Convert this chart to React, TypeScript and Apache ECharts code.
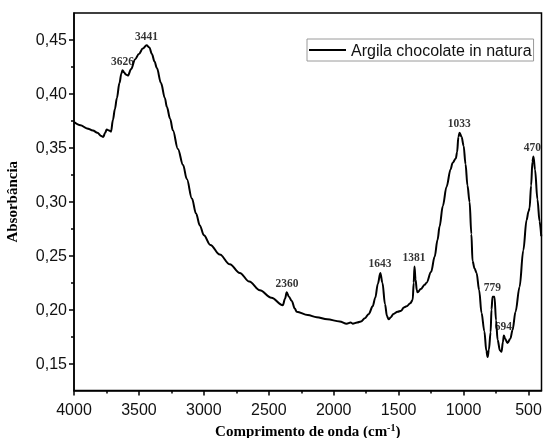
import React, { useEffect, useRef } from "react";
import * as echarts from "echarts";

const wavenumbers = [
  4000, 3950, 3900, 3854, 3820, 3790, 3775, 3760, 3748, 3730, 3715, 3700, 3685, 3670, 3650, 3635, 3626, 3615, 3600, 3585,
  3560, 3530, 3500, 3470, 3441, 3420, 3400, 3380, 3362, 3330, 3300, 3285, 3260, 3238, 3200, 3160, 3131, 3092, 3060, 3031,
  3000, 2950, 2877, 2800, 2723, 2650, 2569, 2480, 2392, 2375, 2362, 2345, 2323, 2300, 2285, 2200, 2131, 2050, 1954, 1900,
  1870, 1854, 1820, 1790, 1760, 1730, 1700, 1680, 1660, 1641, 1625, 1605, 1590, 1577, 1560, 1540, 1508, 1480, 1460, 1439,
  1410, 1392, 1384, 1378, 1370, 1360, 1354, 1330, 1300, 1285, 1250, 1223, 1200, 1185, 1160, 1131, 1100, 1085, 1060, 1050,
  1040, 1031, 1015, 1000, 985, 970, 954, 940, 931, 915, 900, 880, 862, 840, 825, 815, 805, 792, 785, 777,
  762, 750, 738, 720, 708, 697, 690, 680, 662, 640, 623, 600, 569, 540, 515, 500, 492, 480, 470, 462,
  450, 431, 415, 402,
];

const absorbance = [
  0.374, 0.371, 0.368, 0.366, 0.364, 0.361, 0.36, 0.364, 0.367, 0.366, 0.365, 0.376, 0.386, 0.396, 0.41, 0.419, 0.422, 0.42, 0.418, 0.417,
  0.423, 0.432, 0.437, 0.442, 0.445, 0.443, 0.437, 0.43, 0.424, 0.41, 0.396, 0.388, 0.377, 0.366, 0.349, 0.334, 0.321, 0.303, 0.289, 0.278,
  0.269, 0.26, 0.251, 0.242, 0.234, 0.226, 0.218, 0.211, 0.204, 0.21, 0.216, 0.212, 0.208, 0.201, 0.198, 0.195, 0.193, 0.191, 0.189, 0.187,
  0.188, 0.187, 0.188, 0.189, 0.192, 0.196, 0.203, 0.211, 0.224, 0.234, 0.225, 0.205, 0.194, 0.191, 0.193, 0.196, 0.198, 0.199, 0.202, 0.203,
  0.206, 0.209, 0.225, 0.24, 0.228, 0.218, 0.216, 0.219, 0.223, 0.225, 0.235, 0.249, 0.265, 0.277, 0.296, 0.314, 0.33, 0.336, 0.34, 0.346,
  0.36, 0.364, 0.36, 0.352, 0.335, 0.315, 0.3, 0.27, 0.245, 0.238, 0.234, 0.218, 0.197, 0.18, 0.162, 0.156, 0.163, 0.179, 0.2, 0.212,
  0.212, 0.19, 0.172, 0.162, 0.161, 0.17, 0.176, 0.173, 0.169, 0.173, 0.181, 0.198, 0.221, 0.255, 0.283, 0.291, 0.294, 0.315, 0.337, 0.342,
  0.33, 0.302, 0.282, 0.268,
];

const peakWavenumbers = [3626, 3441, 2360, 1643, 1381, 1033, 779, 694, 470];
const peakAbsorbance = [0.422, 0.445, 0.216, 0.234, 0.24, 0.364, 0.212, 0.176, 0.342];

const xTickLabels = [500, 1000, 1500, 2000, 2500, 3000, 3500, 4000];
const xMinorTicks = [750, 1250, 1750, 2250, 2750, 3250, 3750];
const yTickLabels = [0.15, 0.2, 0.25, 0.3, 0.35, 0.4, 0.45];
const yMinorTicks = [0.175, 0.225, 0.275, 0.325, 0.375, 0.425];

const seriesName = "Argila chocolate in natura";

export default function App() {
  const ref = useRef<HTMLDivElement>(null);
  useEffect(() => {
    if (!ref.current) return;
    const chart = echarts.init(ref.current, null, { renderer: "svg" });
    const sans = "'Liberation Sans', Arial, sans-serif";
    const serif = "'Liberation Serif', 'Times New Roman', serif";
    const xBase = { type: "value", min: 400, max: 4000, inverse: true, gridIndex: 0 };
    const yBase = { type: "value", min: 0.125, max: 0.475, gridIndex: 0 };
    chart.setOption({
      animation: false,
      grid: {
        left: 74,
        right: 1.5,
        top: 13,
        bottom: 47.5,
        show: true,
        borderColor: "#000",
        borderWidth: 1.5,
        outerBoundsMode: "none",
      },
      legend: {
        data: [{ name: seriesName, icon: "rect" }],
        left: 307,
        top: 39,
        padding: [3, 2, 3, 2],
        itemWidth: 37,
        itemHeight: 2,
        itemGap: 4,
        borderColor: "#9a9a9a",
        borderWidth: 1,
        itemStyle: { color: "#000" },
        textStyle: { fontFamily: sans, fontSize: 16, color: "#111" },
      },
      xAxis: [
        {
          ...xBase,
          position: "bottom",
          name: "{n|Comprimento de onda (cm}{s|-1}{n|)}",
          nameLocation: "middle",
          nameGap: 28,
          nameTextStyle: {
            rich: {
              n: { fontFamily: serif, fontWeight: "bold", fontSize: 15, color: "#000", lineHeight: 18 },
              s: { fontFamily: serif, fontWeight: "bold", fontSize: 10, color: "#000", verticalAlign: "top", lineHeight: 10 },
            },
          },
          axisLine: { show: true, onZero: false, lineStyle: { color: "#000", width: 1.5 } },
          axisTick: { show: true, inside: false, length: 5, customValues: xTickLabels, lineStyle: { color: "#000", width: 1.5 } },
          axisLabel: {
            customValues: xTickLabels,
            margin: 11,
            fontFamily: sans,
            fontSize: 16,
            color: "#111",
            formatter: (v: number) => String(v),
          },
          splitLine: { show: false },
        },
        {
          ...xBase,
          position: "bottom",
          axisLine: { show: false },
          axisTick: { show: true, inside: false, length: 3, customValues: xMinorTicks, lineStyle: { color: "#000", width: 1.5 } },
          axisLabel: { show: false },
          splitLine: { show: false },
        },
      ],
      yAxis: [
        {
          ...yBase,
          position: "left",
          name: "Absorbância",
          nameLocation: "middle",
          nameGap: 55,
          nameRotate: 90,
          nameTextStyle: { fontFamily: serif, fontWeight: "bold", fontSize: 15, color: "#000" },
          axisLine: { show: true, onZero: false, lineStyle: { color: "#000", width: 1.5 } },
          axisTick: { show: true, inside: false, length: 5, customValues: yTickLabels, lineStyle: { color: "#000", width: 1.5 } },
          axisLabel: {
            customValues: yTickLabels,
            margin: 7,
            fontFamily: sans,
            fontSize: 16,
            color: "#111",
            formatter: (v: number) => v.toFixed(2).replace(".", ","),
          },
          splitLine: { show: false },
        },
        {
          ...yBase,
          position: "left",
          axisLine: { show: false },
          axisTick: { show: true, inside: false, length: 3, customValues: yMinorTicks, lineStyle: { color: "#000", width: 1.5 } },
          axisLabel: { show: false },
          splitLine: { show: false },
        },
      ],
      series: [
        {
          name: seriesName,
          type: "line",
          xAxisIndex: 0,
          yAxisIndex: 0,
          data: wavenumbers.map((w, i) => [w, absorbance[i]]),
          showSymbol: false,
          symbol: "none",
          smooth: 0.35,
          smoothMonotone: "x",
          lineStyle: { color: "#000", width: 2 },
          itemStyle: { color: "#000" },
        },
        {
          name: "peaks",
          type: "scatter",
          xAxisIndex: 0,
          yAxisIndex: 0,
          data: peakWavenumbers.map((w, i) => [w, peakAbsorbance[i]]),
          symbolSize: 1,
          itemStyle: { color: "rgba(0,0,0,0)" },
          label: {
            show: true,
            position: "top",
            distance: 3,
            formatter: (p: any) => String(p.value[0]),
            fontFamily: serif,
            fontWeight: "bold",
            fontSize: 11.5,
            color: "#000",
          },
          silent: true,
        },
      ],
    });
    return () => chart.dispose();
  }, []);
  return <div ref={ref} style={{ position: "fixed", left: 0, top: 0, width: 543, height: 438 }} />;
}
